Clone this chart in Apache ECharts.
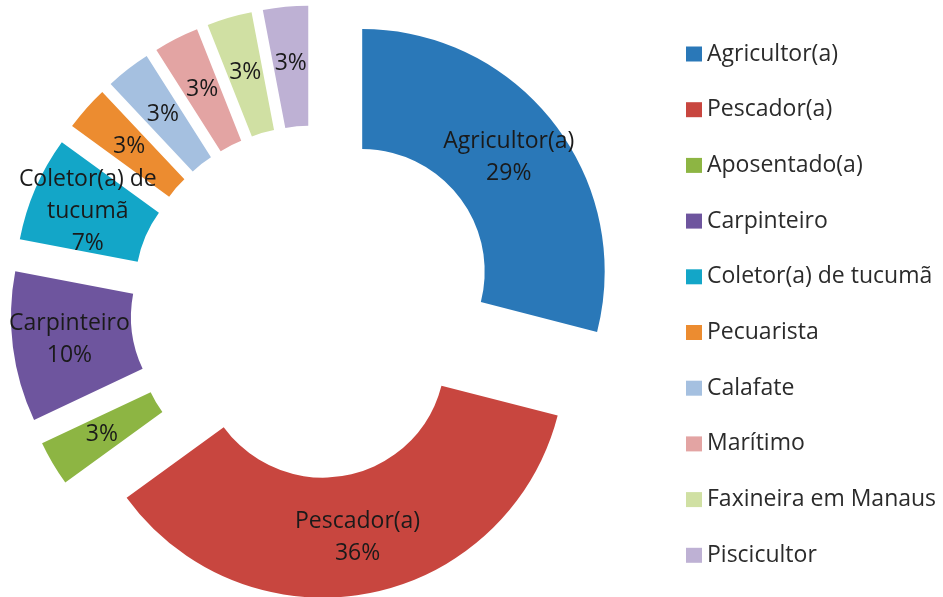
<!DOCTYPE html>
<html><head><meta charset="utf-8">
<script src="https://cdn.jsdelivr.net/npm/echarts@6/dist/echarts.min.js"></script>
<style>html,body{margin:0;padding:0;background:#fff}#c{width:943px;height:597px}</style>
</head><body><div id="c"></div>
<script>
const categories = ['Agricultor(a)','Pescador(a)','Aposentado(a)','Carpinteiro','Coletor(a) de tucumã','Pecuarista','Calafate','Marítimo','Faxineira em Manaus','Piscicultor'];
const values = [29,36,3,10,7,3,3,3,3,3];
const colors = ['#2A78B8','#C8463F','#8DB543','#6E559E','#13A6C8','#EC8C30','#A5C0E0','#E3A4A3','#D0E0A3','#BEB1D4'];
const labelNames = ['Agricultor(a)','Pescador(a)','','Carpinteiro','Coletor(a) de\ntucumã','','','','',''];
const explodeGroup = [0,1,0,0,0,0,0,0,0,0];
const groupOffsets = [61,47];

const FONT = '"Open Sans"';
function buildSeries(g){
  return {
    type:'pie', center:[314,309], radius:[122.5,242.5], startAngle:90, clockwise:true,
    selectedMode:'multiple', selectedOffset:groupOffsets[g], animation:false,
    avoidLabelOverlap:false,
    emphasis:{disabled:true, scale:false}, select:{disabled:false},
    labelLine:{show:false},
    labelLayout:{hideOverlap:false},
    itemStyle:{borderWidth:0},
    label:{show:true, position:'inside', fontFamily:FONT, fontSize:23, lineHeight:32, color:'#1a1a1a',
      formatter:function(p){ const n = labelNames[p.dataIndex]; return (n? n+'\n':'') + p.value + '%'; }},
    data: categories.map((n,i)=>({
      name:n, value:values[i], selected: explodeGroup[i]===g,
      itemStyle:{color: explodeGroup[i]===g ? colors[i] : 'rgba(0,0,0,0)', borderWidth:0},
      label:{show: explodeGroup[i]===g}
    }))
  };
}
const chart = echarts.init(document.getElementById('c'), null, {renderer:'canvas'});
chart.setOption({
  backgroundColor:'#fff',
  animation:false,
  legend:{
    orient:'vertical', left:686, top:42, padding:0,
    icon:'rect', itemWidth:16, itemHeight:15, itemGap:31.7, selectedMode:false,
    textStyle:{fontFamily:FONT, fontSize:23, lineHeight:24, color:'#2b2b2b', padding:[0,0,0,0]},
    data: categories.map((n,i)=>({name:n, itemStyle:{color:colors[i]}}))
  },
  series:[buildSeries(0), buildSeries(1)]
});
</script></body></html>
